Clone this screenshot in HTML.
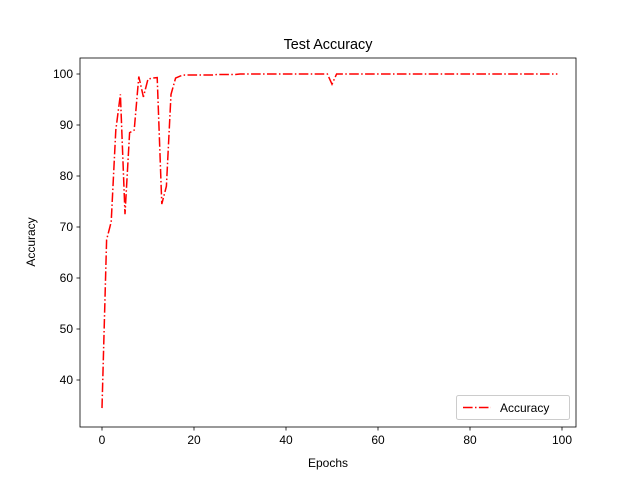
<!DOCTYPE html>
<html><head><meta charset="utf-8"><style>body{margin:0;background:#fff}svg{display:block;font-family:"Liberation Sans","DejaVu Sans",sans-serif}</style></head>
<body>
<svg id="chart" width="640" height="480">
<rect width="640" height="480" fill="#fff"/>
<text x="328" y="49" text-anchor="middle" font-size="14.4">Test Accuracy</text>
<g id="plot"></g>
<rect x="80" y="58" width="496" height="369" fill="none" stroke="#000" stroke-width="0.8"/>
<text x="328" y="467" text-anchor="middle" font-size="12">Epochs</text>
<text transform="translate(35,242) rotate(-90)" text-anchor="middle" font-size="12">Accuracy</text>
<g>
<rect x="456.5" y="395.5" width="113" height="24" rx="2" fill="#fff" stroke="#ccc"/>
<line x1="463" y1="407.5" x2="491" y2="407.5" stroke="red" stroke-width="1.5" stroke-dasharray="9.6,2.4,1.5,2.4"/>
<text x="500" y="412" font-size="12">Accuracy</text>
</g>
</svg>
<script>
const epochs=[];for(let i=0;i<100;i++)epochs.push(i);
const accuracy=[34.5,67.5,71,89,96,72.5,88.5,89,99.5,95.5,99,99.2,99.3,74.5,78,96,99.2,99.6,99.8,99.8,99.8,99.8,99.8,99.8,99.8,99.9,99.9,99.9,99.9,99.9,100,100,100,100,100,100,100,100,100,100,100,100,100,100,100,100,100,100,100,100,98,100,100,100,100,100,100,100,100,100,100,100,100,100,100,100,100,100,100,100,100,100,100,100,100,100,100,100,100,100,100,100,100,100,100,100,100,100,100,100,100,100,100,100,100,100,100,100,100,100];
accuracy[49]=100;
const xTicks=[0,20,40,60,80,100];
const yTicks=[40,50,60,70,80,90,100];
const X=v=>102+v*4.6, Y=v=>74+(100-v)*5.1;
const NS="http://www.w3.org/2000/svg",g=document.getElementById('plot');
function mk(t,a){const e=document.createElementNS(NS,t);for(const k in a)e.setAttribute(k,a[k]);g.appendChild(e);return e;}
xTicks.forEach(t=>{const l=mk('line',{x1:X(t),x2:X(t),y1:427,y2:430.5,stroke:'#000','stroke-width':0.8});


const s=mk('text',{x:X(t),y:444,'text-anchor':'middle','font-size':12});s.textContent=t;

});
yTicks.forEach(t=>{const l=mk('line',{x1:76.5,x2:80,y1:Y(t),y2:Y(t),stroke:'#000','stroke-width':0.8});


const s=mk('text',{x:73,y:Y(t)+4,'text-anchor':'end','font-size':12});s.textContent=t;

});
const p=mk('polyline',{points:epochs.map((e,i)=>X(e)+','+Y(accuracy[i])).join(' '),fill:'none',stroke:'red','stroke-width':1.5,'stroke-dasharray':'9.6,2.4,1.5,2.4'});


</script>
</body></html>
